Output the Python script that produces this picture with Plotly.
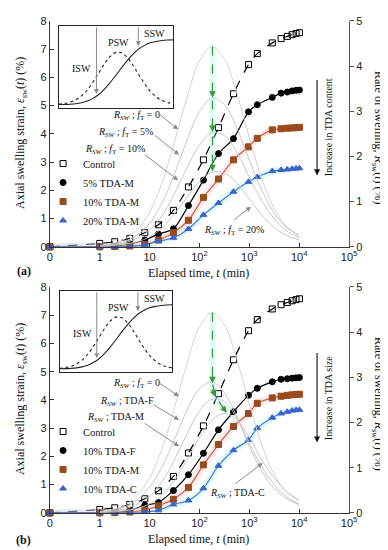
import math
import plotly.graph_objects as go

W, H = 388, 550
def X(px): return px / W
def Y(py): return 1 - py / H

# ---------------- data ----------------
t_min = [0, 1, 2, 4, 8, 15, 30, 60, 120, 240, 480, 960, 1440, 2880, 4320, 5760, 7200, 8640, 10080]

control   = [0, 0.12, 0.18, 0.30, 0.50, 0.78, 1.29, 2.12, 3.08, 4.22, 5.42, 6.45, 6.84, 7.22, 7.37, 7.45, 7.51, 7.55, 7.58]
tdam_5    = [0, 0.00, 0.02, 0.10, 0.24, 0.45, 0.64, 1.46, 2.36, 3.30, 3.83, 4.78, 5.03, 5.29, 5.44, 5.48, 5.52, 5.54, 5.55]
tdam_10   = [0, 0.00, 0.01, 0.03, 0.08, 0.24, 0.50, 0.94, 1.75, 2.40, 3.08, 3.54, 3.84, 4.14, 4.18, 4.20, 4.21, 4.22, 4.23]
tdam_20   = [0, 0.00, 0.00, 0.02, 0.06, 0.20, 0.32, 0.63, 1.13, 1.55, 1.95, 2.30, 2.47, 2.68, 2.72, 2.74, 2.76, 2.77, 2.78]

tdaf_b    = [0, 0.00, 0.02, 0.08, 0.27, 0.37, 0.79, 1.35, 2.11, 2.94, 3.58, 4.16, 4.41, 4.64, 4.73, 4.75, 4.77, 4.78, 4.79]
tdam_b    = [0, 0.00, 0.01, 0.03, 0.10, 0.25, 0.48, 0.90, 1.70, 2.42, 3.06, 3.52, 3.88, 4.07, 4.13, 4.16, 4.18, 4.19, 4.20]
tdac_b    = [0, 0.00, 0.00, 0.01, 0.03, 0.09, 0.30, 0.44, 0.87, 1.67, 2.22, 2.58, 3.00, 3.37, 3.52, 3.58, 3.62, 3.64, 3.65]

t_rate = [1, 1.78, 3.16, 5.62, 10, 17.8, 31.6, 56.2, 100, 178, 316, 562, 1000, 1778, 3162, 5623, 10000]
r_ft0  = [0.03, 0.07, 0.17, 0.38, 0.77, 1.42, 2.33, 3.31, 4.11, 4.43, 4.16, 3.39, 2.41, 1.50, 0.84, 0.45, 0.25]
r_ft5  = [0.02, 0.05, 0.12, 0.26, 0.52, 0.97, 1.62, 2.36, 2.99, 3.29, 3.15, 2.63, 1.91, 1.25, 0.74, 0.42, 0.24]
r_ft10 = [0.01, 0.04, 0.09, 0.19, 0.37, 0.69, 1.18, 1.75, 2.25, 2.52, 2.46, 2.09, 1.54, 1.02, 0.62, 0.35, 0.20]
r_ft20 = [0.01, 0.03, 0.06, 0.11, 0.22, 0.42, 0.73, 1.10, 1.45, 1.65, 1.63, 1.41, 1.06, 0.70, 0.43, 0.25, 0.15]
r_f    = [0.02, 0.06, 0.14, 0.29, 0.57, 1.02, 1.63, 2.27, 2.75, 2.90, 2.66, 2.12, 1.47, 0.92, 0.54, 0.31, 0.18]
r_m    = [0.01, 0.04, 0.09, 0.19, 0.37, 0.69, 1.18, 1.75, 2.25, 2.52, 2.46, 2.09, 1.54, 1.02, 0.62, 0.35, 0.20]
r_c    = [0.01, 0.02, 0.05, 0.10, 0.20, 0.39, 0.72, 1.17, 1.67, 2.05, 2.20, 2.05, 1.67, 1.17, 0.77, 0.47, 0.29]

green_a_t = [182, 182]
green_a_r = [4.43, 1.67]
green_a_heads = [3.30, 2.54, 1.67]
green_b_t = [182, 182, 209, 355]
green_b_r = [4.43, 2.87, 2.57, 2.22]

inset_x   = [0, 0.5, 1, 1.5, 2, 2.5, 3, 3.5, 4, 4.5, 5, 5.5, 6, 6.5, 7, 7.5, 8, 8.5, 9, 9.5, 10]
inset_psw = [0.046, 0.053, 0.069, 0.098, 0.146, 0.219, 0.314, 0.426, 0.537, 0.627, 0.676, 0.670,
             0.612, 0.516, 0.403, 0.293, 0.202, 0.135, 0.091, 0.065, 0.051]
inset_cum = [0.041, 0.042, 0.045, 0.051, 0.063, 0.083, 0.116, 0.163, 0.229, 0.309, 0.397, 0.491,
             0.578, 0.655, 0.718, 0.761, 0.792, 0.809, 0.820, 0.826, 0.828]

x_tickvals = [0, 1, 10, 100, 1000, 10000, 100000]
x_ticktext = ["0", "1", "10", "10<sup>2</sup>", "10<sup>3</sup>", "10<sup>4</sup>", "10<sup>5</sup>"]

# t = 0 is drawn one decade below t = 1 on the log axis
def tx(v):
    return v if v > 0 else 0.1

SERIF = "Liberation Serif"
SANS = "Liberation Sans"
BROWN_M = "#9b4a1c"
BROWN_L = "#c9602c"
BLUE_M = "#3a63c8"
BLUE_L = "#4a78d0"
GREEN = "#3a9a3a"

fig = go.Figure()
tt = [tx(v) for v in t_min]

def add_panel(xa, ya, yr, legend, series, rates, green_t, green_r):
    # rate-of-swelling bells (right axis)
    for i, r in enumerate(rates):
        fig.add_trace(go.Scatter(x=t_rate, y=r, xaxis=xa, yaxis=yr, mode="lines",
                                 line=dict(color="#cfcfcf" if i == 0 else "#c2c2c2", width=0.9,
                                           shape="spline"),
                                 showlegend=False, hoverinfo="skip"))
    # green arrow with glow
    fig.add_trace(go.Scatter(x=green_t, y=green_r, xaxis=xa, yaxis=yr, mode="lines",
                             line=dict(color="rgba(170,245,230,0.35)", width=6),
                             showlegend=False, hoverinfo="skip"))
    fig.add_trace(go.Scatter(x=green_t, y=green_r, xaxis=xa, yaxis=yr, mode="lines",
                             line=dict(color=GREEN, width=1.3, dash="dash"),
                             showlegend=False, hoverinfo="skip"))
    # swelling series
    for name, vals, sym, mcol, lcol, dash, glow in series:
        if glow:
            fig.add_trace(go.Scatter(x=tt, y=vals, xaxis=xa, yaxis=ya, mode="lines",
                                     line=dict(color=glow, width=7, shape="spline"),
                                     showlegend=False, hoverinfo="skip"))
        fig.add_trace(go.Scatter(x=tt, y=vals, xaxis=xa, yaxis=ya, mode="lines",
                                 line=dict(color=lcol, width=1.2, dash=dash, shape="spline",
                                           smoothing=0.8),
                                 showlegend=False, hoverinfo="skip"))
    for name, vals, sym, mcol, lcol, dash, glow in series:
        fig.add_trace(go.Scatter(x=tt, y=vals, xaxis=xa, yaxis=ya, mode="markers", name=name,
                                 marker=dict(symbol=sym, size=6, color=mcol,
                                             line=dict(color=mcol, width=1)),
                                 legend=legend, cliponaxis=False))

series_a = [
    ("Control", control, "square-open", "black", "black", "dash", None),
    ("5% TDA-M", tdam_5, "circle", "black", "black", "solid", None),
    ("10% TDA-M", tdam_10, "square", BROWN_M, BROWN_L, "solid", "rgba(255,170,210,0.25)"),
    ("20% TDA-M", tdam_20, "triangle-up", BLUE_M, BLUE_L, "solid", "rgba(160,235,250,0.30)"),
]
series_b = [
    ("Control", control, "square-open", "black", "black", "dash", None),
    ("10% TDA-F", tdaf_b, "circle", "black", "black", "solid", None),
    ("10% TDA-M", tdam_b, "square", BROWN_M, BROWN_L, "solid", "rgba(255,170,210,0.25)"),
    ("10% TDA-C", tdac_b, "triangle-up", BLUE_M, BLUE_L, "solid", "rgba(160,235,250,0.30)"),
]
add_panel("x", "y", "y2", "legend", series_a, [r_ft0, r_ft5, r_ft10, r_ft20],
          green_a_t, green_a_r)
add_panel("x2", "y3", "y4", "legend2", series_b, [r_ft0, r_f, r_m, r_c],
          green_b_t, green_b_r)

# insets
for xa, ya in (("x3", "y5"), ("x4", "y6")):
    fig.add_trace(go.Scatter(x=inset_x, y=inset_psw, xaxis=xa, yaxis=ya, mode="lines",
                             line=dict(color="#222", width=1.1, dash="dot", shape="spline"),
                             showlegend=False, hoverinfo="skip"))
    fig.add_trace(go.Scatter(x=inset_x, y=inset_cum, xaxis=xa, yaxis=ya, mode="lines",
                             line=dict(color="#222", width=1.1, shape="spline"),
                             showlegend=False, hoverinfo="skip"))

# ---------------- axes ----------------
def xaxis_main(domain, anchor):
    return dict(domain=domain, anchor=anchor, type="log", range=[-1, 5],
                tickvals=[tx(v) for v in x_tickvals], ticktext=x_ticktext,
                ticks="inside", ticklen=4, tickcolor="#333", showline=True, linecolor="#333",
                linewidth=1, showgrid=False, zeroline=False,
                tickfont=dict(family=SANS, size=11, color="#222"))

def yaxis_left(domain, anchor):
    return dict(domain=domain, anchor=anchor, range=[0, 8], dtick=1, ticks="inside", ticklen=4,
                tickcolor="#333", showline=True, linecolor="#333", linewidth=1, showgrid=False,
                zeroline=False, tickfont=dict(family=SANS, size=11, color="#222"))

def yaxis_right(over, anchor):
    return dict(overlaying=over, anchor=anchor, side="right", range=[0, 5], dtick=1,
                ticks="outside", ticklen=4, tickcolor="#555", showline=True, linecolor="#555",
                linewidth=1, showgrid=False, zeroline=False,
                tickfont=dict(family=SANS, size=11, color="#222"))

def inset_axis(domain, anchor, rng):
    return dict(domain=domain, anchor=anchor, range=rng, showline=True, mirror=True,
                linecolor="#222", linewidth=1.2, ticks="", showticklabels=False,
                showgrid=False, zeroline=False)

legend_common = dict(font=dict(family=SERIF, size=10.5, color="#111"), bgcolor="rgba(0,0,0,0)",
                     xanchor="left", yanchor="top", itemwidth=30, tracegroupgap=0,
                     itemclick=False)

fig.update_layout(
    width=W, height=H, margin=dict(l=0, r=0, t=0, b=0),
    paper_bgcolor="white", plot_bgcolor="white",
    font=dict(family=SERIF, size=12, color="#111"),
    xaxis=xaxis_main([X(40), X(348)], "y"),
    yaxis=yaxis_left([Y(238), Y(7)], "x"),
    yaxis2=yaxis_right("y", "x"),
    xaxis2=xaxis_main([X(40), X(348)], "y3"),
    yaxis3=yaxis_left([Y(510), Y(279)], "x2"),
    yaxis4=yaxis_right("y3", "x2"),
    xaxis3=inset_axis([X(49), X(167)], "y5", [0, 10]),
    yaxis5=inset_axis([Y(96), Y(12)], "x3", [0, 1]),
    xaxis4=inset_axis([X(50), X(166)], "y6", [0, 10]),
    yaxis6=inset_axis([Y(366), Y(283)], "x4", [0, 1]),
    legend=dict(x=X(33), y=Y(138), **legend_common),
    legend2=dict(x=X(33), y=Y(412), **legend_common),
    showlegend=True,
)

ann = []
def text(px, py, s, size=12, angle=0, xanchor="center", family=SERIF, color="#111"):
    ann.append(dict(x=X(px), y=Y(py), xref="paper", yref="paper", text=s, showarrow=False,
                    textangle=angle, xanchor=xanchor, yanchor="middle",
                    font=dict(family=family, size=size, color=color)))

def arrow(tail, tip, color="#8a8a8a", width=1, head=2, size=1):
    ann.append(dict(x=X(tip[0]), y=Y(tip[1]), xref="paper", yref="paper", text="",
                    showarrow=True, ax=tail[0] - tip[0], ay=tail[1] - tip[1],
                    arrowcolor=color, arrowwidth=width, arrowhead=head, arrowsize=size))

RSW = "<i>R</i><sub><i>SW</i></sub> ; "
# axis titles
for dy in (0, 272):
    text(11, 122 + dy, "Axial swelling strain, <i>ε</i><sub>sw</sub>(<i>t</i>) (%)", 12, -90)
    text(377, 127 + dy, "Rate of swelling, <i>R</i><sub>sw</sub>(<i>t</i>) (%)", 12, 90)
    text(193, 265 + dy, "Elapsed time, <i>t</i> (min)", 12)
text(13, 263, "<b>(a)</b>", 12)
text(13, 538, "<b>(b)</b>", 12)

# panel (a) labels
text(129, 104, RSW + "<i>f</i><sub>T</sub> = 0", 10)
text(118, 121, RSW + "<i>f</i><sub>T</sub> = 5%", 10)
text(107, 139, RSW + "<i>f</i><sub>T</sub> = 10%", 10)
text(230, 221, RSW + "<i>f</i><sub>T</sub> = 20%", 10)
arrow((151, 101), (172, 118))
arrow((147, 123), (173, 144))
arrow((137, 143), (172, 170))
arrow((229, 211), (247, 197))
# panel (b) labels
text(129, 378, RSW + "<i>f</i><sub>T</sub> = 0", 10)
text(119, 396, RSW + "TDA-F", 10)
text(108, 413, RSW + "TDA-M", 10)
text(233, 490, RSW + "TDA-C", 10)
arrow((151, 376), (173, 391))
arrow((146, 399), (173, 415))
arrow((137, 418), (173, 442))
arrow((230, 481), (259, 459))

# increase arrows
arrow((315, 68), (315, 165), color="#111", width=1.1, head=2, size=1.1)
text(327, 116, "Increase in TDA content", 10, -90)
arrow((315, 347), (315, 438), color="#111", width=1.1, head=2, size=1.1)
text(327, 392, "Increase in TDA size", 10, -90)

# green arrowheads (data coordinates of the right axes)
for r in green_a_heads:
    ann.append(dict(x=math.log10(green_a_t[0]), y=r, xref="x", yref="y2", text="",
                    showarrow=True, ax=0, ay=-9, arrowcolor=GREEN, arrowwidth=1.3,
                    arrowhead=2, arrowsize=1))
for i in range(1, len(green_b_t)):
    dx = [0, -4, -6][i - 1]
    dy = [-9, -9, -7][i - 1]
    ann.append(dict(x=math.log10(green_b_t[i]), y=green_b_r[i], xref="x2", yref="y4", text="",
                    showarrow=True, ax=dx, ay=dy, arrowcolor=GREEN, arrowwidth=1.3,
                    arrowhead=2, arrowsize=1))

# inset texts and arrows
for xa, ya in (("x3", "y5"), ("x4", "y6")):
    for s, ix, iy in (("ISW", 2.0, 0.48), ("PSW", 5.2, 0.80), ("SSW", 8.4, 0.91)):
        ann.append(dict(x=ix, y=iy, xref=xa, yref=ya, text=s, showarrow=False,
                        font=dict(family=SERIF, size=10, color="#111")))
    for ix, tipy in ((3.3, 0.17), (6.95, 0.75)):
        ann.append(dict(x=ix, y=tipy, xref=xa, yref=ya, ax=ix, ay=1.0, axref=xa, ayref=ya,
                        text="", showarrow=True, arrowcolor="#8a8a8a", arrowwidth=1,
                        arrowhead=2, arrowsize=1))

fig.update_layout(annotations=ann)
fig.write_html("out.html")
